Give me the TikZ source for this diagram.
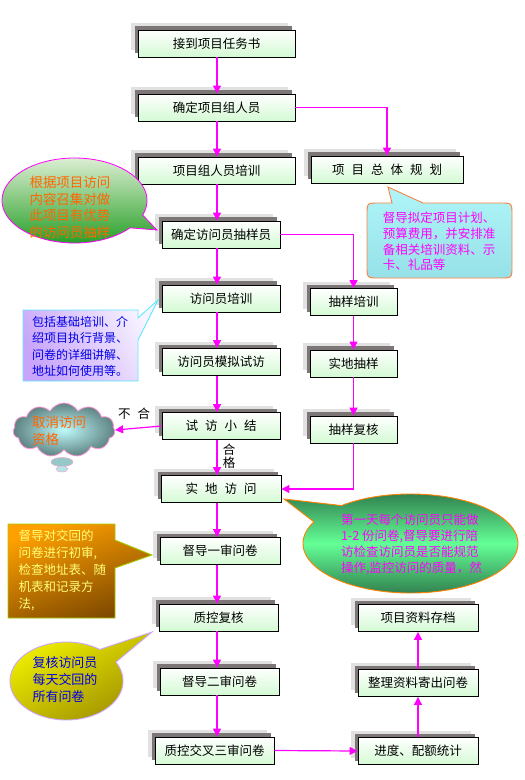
\documentclass[tikz,border=0pt]{standalone}
\usepackage{fontspec}
\setmainfont{Noto Sans CJK SC}
\usetikzlibrary{arrows.meta,shadows,shapes.symbols}
\definecolor{mag}{RGB}{255,0,255}
\definecolor{boxg}{RGB}{212,250,212}
\definecolor{shlight}{RGB}{225,225,225}
\definecolor{shdark}{RGB}{125,118,118}
\definecolor{orgtxt}{RGB}{255,102,0}
\definecolor{bluetxt}{RGB}{0,0,230}
\newcommand{\gsp}{\hspace{7pt}}
\begin{document}
\begin{tikzpicture}[x=1pt,y=-1pt,
  box/.style={draw=black, line width=0.9pt, top color=white, bottom color=boxg,
    minimum height=27pt, inner sep=0pt, font=\fontsize{12.5}{14}\selectfont,
    general shadow={shadow xshift=-7pt, shadow yshift=7pt, fill=shlight},
    general shadow={shadow xshift=-3pt, shadow yshift=4pt, fill=shdark}},
  arr/.style={draw=mag, line width=1.2pt, -{Triangle[width=8pt,length=8pt]}},
  lbl/.style={inner sep=0pt, font=\fontsize{12.5}{13}\selectfont},
  ctext/.style={inner sep=0pt, align=left}]
\fill[white] (0,0) rectangle (525,780);
\useasboundingbox (0,0) rectangle (525,780);
\coordinate (vx) at (217,0);

% boxes
\node[box, minimum width=157pt] (b1) at (216.5,43.5) {接到项目任务书};
\node[box, minimum width=157pt] (b2) at (216.5,107.5) {确定项目组人员};
\node[box, minimum width=157pt] (b3) at (216.5,170.5) {项目组人员培训};
\node[box, minimum width=152pt] (b4) at (387,169.5) {项\gsp 目\gsp 总\gsp 体\gsp 规\gsp 划};
\node[box, minimum width=118pt] (b5) at (221,234.5) {确定访问员抽样员};
\node[box, minimum width=118pt] (b6) at (221,298.5) {访问员培训};
\node[box, minimum width=118pt] (b7) at (221,362) {访问员模拟试访};
\node[box, minimum width=118pt] (b8) at (221,426) {试\gsp 访\gsp 小\gsp 结};
\node[box, minimum width=87pt] (b9) at (353.5,302) {抽样培训};
\node[box, minimum width=87pt] (b10) at (353.5,363.5) {实地抽样};
\node[box, minimum width=87pt] (b11) at (353.5,429.5) {抽样复核};
\node[box, minimum width=120pt] (b12) at (221,489) {实\gsp 地\gsp 访\gsp 问};
\node[box, minimum width=120pt] (b13) at (220,551) {督导一审问卷};
\node[box, minimum width=119pt] (b14) at (218.5,617.5) {质控复核};
\node[box, minimum width=119pt] (b15) at (219.5,681.5) {督导二审问卷};
\node[box, minimum width=119pt] (b16) at (214.5,750.5) {质控交叉三审问卷};
\node[box, minimum width=120pt] (b17) at (418,751) {进度、配额统计};
\node[box, minimum width=120pt] (b18) at (418,683) {整理资料寄出问卷};
\node[box, minimum width=120pt] (b19) at (418,618) {项目资料存档};

% cloud
\node[cloud, cloud puffs=11, cloud puff arc=120, aspect=1.9, minimum width=102pt, minimum height=54pt,
  draw={rgb,255:red,255;green,150;blue,210}, line width=0.8pt,
  inner color={rgb,255:red,190;green,250;blue,250}, outer color={rgb,255:red,95;green,130;blue,130}] (cl) at (64,430) {};
\filldraw[draw={rgb,255:red,255;green,150;blue,210}, fill={rgb,255:red,150;green,200;blue,200}] (62,462) ellipse (11 and 4.5);
\filldraw[draw={rgb,255:red,255;green,150;blue,210}, fill={rgb,255:red,180;green,230;blue,230}] (62,469) ellipse (6 and 3);
\node[ctext, text=orgtxt, font=\fontsize{13.5}{17}\selectfont] (tD) at (59,430.5) {取消访问\\资格};

% arrows
\draw[arr] (b1.south -| vx) -- (b2.north -| vx);
\draw[arr] (b2.south -| vx) -- (b3.north -| vx);
\draw[arr] (b3.south -| vx) -- (b5.north -| vx);
\draw[arr] (b5.south -| vx) -- (b6.north -| vx);
\draw[arr] (b6.south -| vx) -- (b7.north -| vx);
\draw[arr] (b7.south -| vx) -- (b8.north -| vx);
\draw[arr] (b8.south -| vx) -- (b12.north -| vx);
\draw[arr] (b12.south -| vx) -- (b13.north -| vx);
\draw[arr] (b13.south -| vx) -- (b14.north -| vx);
\draw[arr] (b14.south -| vx) -- (b15.north -| vx);
\draw[arr] (b15.south -| vx) -- (b16.north -| vx);
\draw[arr] (b2.east) -| (b4.north);
\draw[arr] (b5.east) -| (b9.north);
\draw[arr] (b9) -- (b10);
\draw[arr] (b10) -- (b11);
\draw[arr] (b11.south) |- (b12.east);
\draw[arr] (b8.west) -- (cl.east);
\draw[arr] (b16.east) -- (b17.west);
\draw[arr] (b17) -- (b18);
\draw[arr] (b18) -- (b19);
\node[lbl] (nh) at (134,414) {不\gsp 合};
\node[lbl, align=center] (hg) at (229,456) {合\\格};

% callout A (green ellipse)
\shade[draw=mag, line width=0.8pt, top color={rgb,255:red,220;green,238;blue,210}, bottom color={rgb,255:red,40;green,160;blue,40}]
  (157,230) -- plot[domain=40:380, samples=90, smooth] ({74.5+72.5*cos(\x)},{200.5+42.5*sin(\x)}) -- cycle;
\node[ctext, text=orgtxt, font=\fontsize{13.5}{16.5}\selectfont] (tA) at (70,207.5) {根据项目访问\\内容召集对做\\此项目有优势\\的访问员抽样};

% callout B (cyan rounded)
\shade[draw={rgb,255:red,255;green,128;blue,64}, line width=0.9pt, top color={rgb,255:red,175;green,245;blue,248}, bottom color={rgb,255:red,150;green,225;blue,232}]
  (388,187) -- (423,203) -- (500,203) .. controls (512,203) .. (512,215) -- (512,266) .. controls (512,278) .. (500,278)
  -- (379,278) .. controls (367,278) .. (367,266) -- (367,215) .. controls (367,203) .. (379,203) -- (392,203) -- cycle;
\node[ctext, text=mag, font=\fontsize{12.5}{15.7}\selectfont] (tB) at (439,241.5) {督导拟定项目计划、\\预算费用，并安排准\\备相关培训资料、示\\卡、礼品等};

% callout C (lavender)
\shade[draw={rgb,255:red,90;green,235;blue,255}, line width=0.9pt, left color={rgb,255:red,200;green,165;blue,250}, right color={rgb,255:red,248;green,244;blue,255}, shading angle=120]
  (23,310) -- (138,310) -- (138,318) -- (158,300) -- (138,340) -- (138,381) -- (23,381) -- cycle;
\node[ctext, text=bluetxt, font=\fontsize{12}{16.3}\selectfont] (tC) at (80,346.5) {包括基础培训、介\\绍项目执行背景、\\问卷的详细讲解、\\地址如何使用等。};

% callout E (big green ellipse)
\shade[draw={rgb,255:red,255;green,128;blue,0}, line width=0.9pt, top color={rgb,255:red,50;green,130;blue,80}, bottom color={rgb,255:red,50;green,130;blue,80}, middle color={rgb,255:red,100;green,255;blue,150}]
  (284,499) -- plot[domain=230:566, samples=120, smooth] ({410.5+107.5*cos(\x)},{543.5+49.5*sin(\x)}) -- cycle;
\node[ctext, text=mag, font=\fontsize{12.5}{16}\selectfont] (tE) at (411.5,544) {第一天每个访问员只能做\\1-2 份问卷,督导要进行陪\\访检查访问员是否能规范\\操作,监控访问的质量，然};

% callout F (orange)
\shade[draw={rgb,255:red,165;green,205;blue,0}, line width=0.9pt, top color={rgb,255:red,255;green,160;blue,0}, bottom color={rgb,255:red,125;green,72;blue,0}, shading angle=20]
  (8,524) -- (115,524) -- (115,540) -- (152,555) -- (115,568) -- (115,618) -- (8,618) -- cycle;
\node[ctext, text={rgb,255:red,255;green,255;blue,120}, font=\fontsize{12.5}{17}\selectfont] (tF) at (62.5,570) {督导对交回的\\问卷进行初审,\\检查地址表、随\\机表和记录方\\法,};

% callout G (yellow ellipse)
\shade[draw={rgb,255:red,205;green,165;blue,255}, line width=0.9pt, top color={rgb,255:red,240;green,240;blue,0}, bottom color={rgb,255:red,160;green,145;blue,0}, shading angle=30]
  (152,632) -- plot[domain=331:666, samples=100, smooth] ({66.5+56.5*cos(\x)},{681+39*sin(\x)}) -- cycle;
\node[ctext, text=bluetxt, font=\fontsize{13}{17}\selectfont] (tG) at (65,680) {复核访问员\\每天交回的\\所有问卷};
\end{tikzpicture}
\end{document}
